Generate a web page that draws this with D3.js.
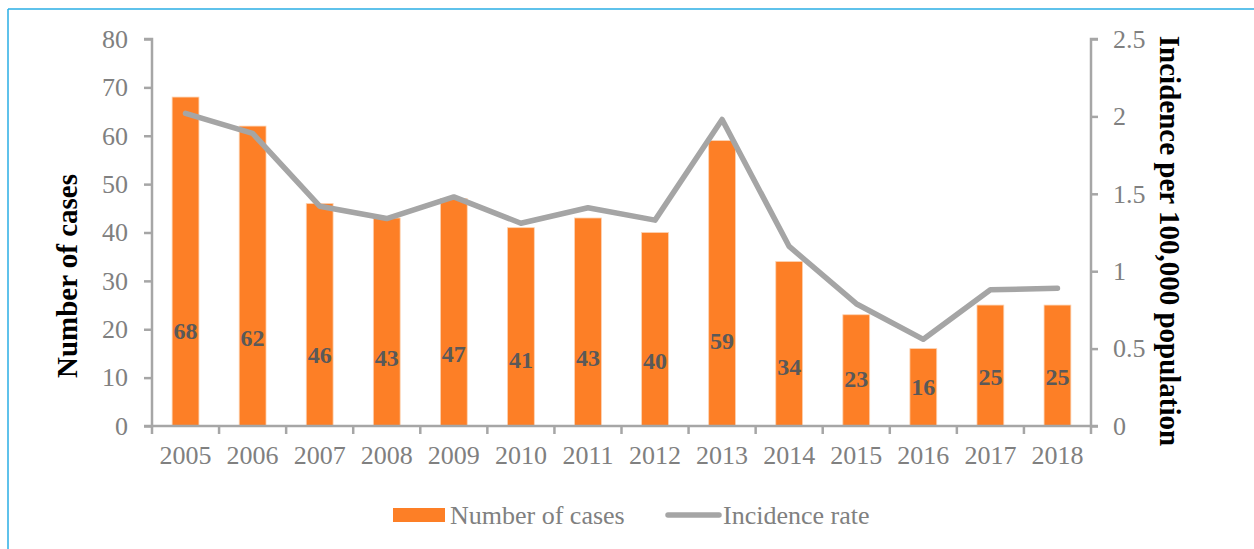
<!DOCTYPE html>
<html>
<head>
<meta charset="utf-8">
<script src="https://cdn.jsdelivr.net/npm/d3@7/dist/d3.min.js"></script>
<style>
  body { margin: 0; background: #fff; }
  svg { display: block; font-family: "Liberation Serif", "Times New Roman", serif; }
</style>
</head>
<body>
<div id="chart"></div>
<script>
const years = ['2005', '2006', '2007', '2008', '2009', '2010', '2011', '2012', '2013', '2014', '2015', '2016', '2017', '2018'];
const cases = [68, 62, 46, 43, 47, 41, 43, 40, 59, 34, 23, 16, 25, 25];
const incidence = [2.02, 1.89, 1.42, 1.34, 1.48, 1.31, 1.41, 1.33, 1.98, 1.16, 0.79, 0.56, 0.88, 0.89];
const leftTicks = [0, 10, 20, 30, 40, 50, 60, 70, 80];
const rightTicks = [0, 0.5, 1, 1.5, 2, 2.5];

const width = 1254, height = 549;
const plotL = 152, plotR = 1091, plotT = 39, plotB = 426;
const axisColor = '#a6a6a6', textColor = '#808080';
const barColor = '#fd7f26', lineColor = '#a5a5a5';

const svg = d3.select('#chart').append('svg').attr('width', width).attr('height', height);

// frame lines (blue)
svg.append('line').attr('x1', 8).attr('y1', 9).attr('x2', 8).attr('y2', height)
    .attr('stroke', '#2aaee4').attr('stroke-width', 1.5);
svg.append('line').attr('x1', 8).attr('y1', 9).attr('x2', width).attr('y2', 9)
    .attr('stroke', '#2aaee4').attr('stroke-width', 1.5);

const x = d3.scaleBand().domain(years).range([plotL, plotR]).padding(0);
const y = d3.scaleLinear().domain([0, 80]).range([plotB, plotT]);
const y2 = d3.scaleLinear().domain([0, 2.5]).range([plotB, plotT]);
const barW = x.bandwidth() * 0.4;

// bars
svg.append('g').selectAll('rect')
    .data(cases)
    .enter()
    .append('rect')
    .attr('x', (d, i) => x(years[i]) + (x.bandwidth() - barW) / 2)
    .attr('y', d => y(d))
    .attr('width', barW)
    .attr('height', d => plotB - y(d))
    .attr('fill', barColor)
    .attr('stroke', '#fcd3b3')
    .attr('stroke-width', 0.8);

// left axis
const gl = svg.append('g').attr('transform', `translate(${plotL},0)`)
    .call(d3.axisLeft(y).tickValues(leftTicks).tickSize(8).tickPadding(16));
// right axis
const gr = svg.append('g').attr('transform', `translate(${plotR},0)`)
    .call(d3.axisRight(y2).tickValues(rightTicks).tickSize(7).tickPadding(15).tickFormat(d3.format('')));
// bottom axis with ticks at category edges
const gb = svg.append('g').attr('transform', `translate(0,${plotB})`)
    .call(d3.axisBottom(x).tickSize(0).tickPadding(20));
gb.selectAll('.tick').append('line')
    .attr('class', 'edge')
    .attr('x1', -x.bandwidth() / 2).attr('x2', -x.bandwidth() / 2).attr('y2', 8);
gb.append('line')
    .attr('class', 'edge')
    .attr('x1', plotR).attr('x2', plotR).attr('y2', 8);
gb.selectAll('.edge').attr('stroke', axisColor).attr('stroke-width', 2.5);

[gl, gr, gb].forEach(g => {
    g.select('.domain').attr('stroke', axisColor).attr('stroke-width', 2.5);
    g.selectAll('.tick line').attr('stroke', axisColor).attr('stroke-width', 2.5);
    g.selectAll('.tick text').attr('fill', textColor).attr('font-size', 26)
        .attr('font-family', '"Liberation Serif", serif');
});
gl.select('.domain').attr('d', `M-8,${plotT}H0V${plotB}H-8`);
gr.select('.domain').attr('d', `M7,${plotT}H0V${plotB}H7`);
gb.select('.domain').attr('d', `M${plotL},0H${plotR}`);

// incidence line
const line = d3.line()
    .x((d, i) => x(years[i]) + x.bandwidth() / 2)
    .y(d => y2(d));
svg.append('path')
    .datum(incidence)
    .attr('d', line)
    .attr('fill', 'none')
    .attr('stroke', lineColor)
    .attr('stroke-width', 5.5)
    .attr('stroke-linejoin', 'round')
    .attr('stroke-linecap', 'round');

// data labels (Excel-style placement, low inside bar)
svg.append('g').selectAll('text')
    .data(cases)
    .enter()
    .append('text')
    .attr('x', (d, i) => x(years[i]) + x.bandwidth() / 2)
    .attr('y', d => y(d * 0.22 + 4.7))
    .attr('dy', '0.35em')
    .attr('text-anchor', 'middle')
    .attr('font-size', 24)
    .attr('font-weight', 'bold')
    .attr('fill', '#595959')
    .text(d => d);

// axis titles
svg.append('text')
    .attr('transform', `translate(77,276) rotate(-90)`)
    .attr('text-anchor', 'middle')
    .attr('font-size', 29)
    .attr('font-weight', 'bold')
    .attr('fill', '#000')
    .text('Number of cases');
svg.append('text')
    .attr('transform', `translate(1160,241) rotate(90)`)
    .attr('text-anchor', 'middle')
    .attr('font-size', 29)
    .attr('font-weight', 'bold')
    .attr('fill', '#000')
    .text('Incidence per 100,000 population');

// legend
const legend = svg.append('g');
legend.append('rect').attr('x', 393).attr('y', 508).attr('width', 52).attr('height', 14).attr('fill', barColor);
legend.append('text').attr('x', 450).attr('y', 524).attr('font-size', 26).attr('fill', textColor).text('Number of cases');
legend.append('line').attr('x1', 668).attr('x2', 719).attr('y1', 515).attr('y2', 515)
    .attr('stroke', lineColor).attr('stroke-width', 5.5).attr('stroke-linecap', 'round');
legend.append('text').attr('x', 723).attr('y', 524).attr('font-size', 26).attr('fill', textColor).text('Incidence rate');
</script>
</body>
</html>
